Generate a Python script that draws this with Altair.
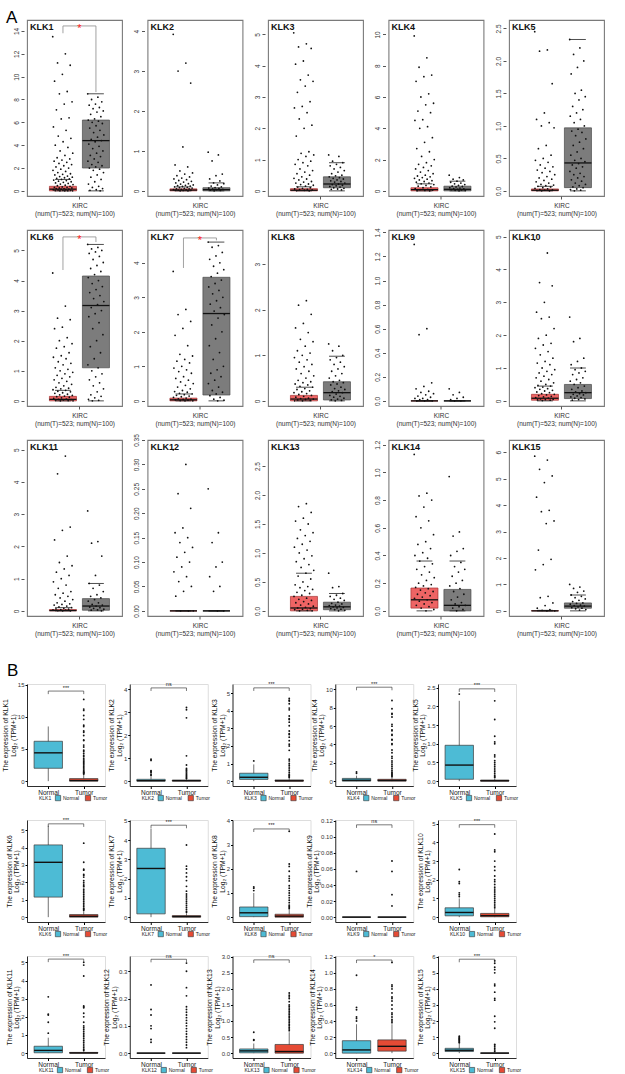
import altair as alt
import pandas as pd

FONT = "Liberation Sans"

GENES = ["KLK1", "KLK2", "KLK3", "KLK4", "KLK5", "KLK6", "KLK7", "KLK8",
         "KLK9", "KLK10", "KLK11", "KLK12", "KLK13", "KLK14", "KLK15"]

# ---------------- Panel A (GEPIA style, KIRC tumor vs normal) ----------------
# box statistics: (q1, median, q3, lower cap, upper cap)
A_TUMOR_BOX = [
    (0.0, 0.15, 0.4, 0.0, 1.0), (0.0, 0.02, 0.05, 0.0, 0.1), (0.0, 0.02, 0.07, 0.0, 0.13),
    (0.0, 0.08, 0.2, 0.0, 0.45), (0.0, 0.01, 0.03, 0.0, 0.07), (0.0, 0.05, 0.15, 0.0, 0.35),
    (0.0, 0.03, 0.08, 0.0, 0.2), (0.0, 0.04, 0.12, 0.0, 0.3), (0.0, 0.0, 0.0, 0.0, 0.0),
    (0.02, 0.08, 0.2, 0.0, 0.45), (0.0, 0.01, 0.04, 0.0, 0.1), (0.0, 0.0, 0.0, 0.0, 0.0),
    (0.0, 0.05, 0.25, 0.0, 0.65), (0.02, 0.08, 0.165, 0.0, 0.36), (0.0, 0.0, 0.01, 0.0, 0.02),
]
A_NORMAL_BOX = [
    (2.0, 4.4, 6.2, 0.0, 8.5), (0.0, 0.03, 0.08, 0.0, 0.2), (0.1, 0.22, 0.45, 0.0, 0.9),
    (0.0, 0.1, 0.3, 0.0, 0.62), (0.05, 0.43, 0.97, 0.0, 2.33), (1.1, 3.17, 4.15, 0.0, 5.2),
    (0.17, 2.53, 3.58, 0.0, 4.6), (0.02, 0.18, 0.42, 0.0, 0.98), (0.0, 0.0, 0.0, 0.0, 0.0),
    (0.07, 0.25, 0.5, 0.0, 1.0), (0.02, 0.15, 0.38, 0.0, 0.85), (0.0, 0.0, 0.0, 0.0, 0.0),
    (0.02, 0.07, 0.15, 0.0, 0.3), (0.0, 0.04, 0.155, 0.0, 0.36), (0.1, 0.18, 0.3, 0.0, 0.6),
]
A_TUMOR_PTS = [
    [13.5, 12.0, 11.2, 11.0, 10.2, 9.6, 8.7, 8.5, 7.8, 7.6, 7.1, 6.4, 6.3, 5.6, 5.3, 4.8, 4.6, 4.3, 4.0, 3.8,
     3.5, 3.3, 3.1, 2.9, 2.8, 2.7, 2.6, 2.5, 2.4, 2.3, 2.2, 2.1, 2.0, 1.9, 1.8, 1.7, 1.6, 1.5, 1.45, 1.4,
     1.3, 1.25, 1.2, 1.15, 1.1, 1.05, 1.0, 0.95, 0.9, 0.85, 0.8, 0.75, 0.7, 0.65, 0.6, 0.55, 0.5, 0.45, 0.4,
     0.35, 0.3, 0.3, 0.25, 0.25, 0.2, 0.2, 0.15, 0.15, 0.1, 0.1, 0.08, 0.05, 0.05, 0.03, 0.02, 0.01, 0.0, 0.0],
    [3.92, 3.2, 3.0, 2.7, 1.1, 0.65, 0.6, 0.5, 0.45, 0.42, 0.38, 0.35, 0.32, 0.3, 0.28, 0.26, 0.24, 0.22,
     0.2, 0.18, 0.17, 0.15, 0.14, 0.13, 0.12, 0.11, 0.1, 0.09, 0.08, 0.07, 0.06, 0.05, 0.05, 0.04, 0.03,
     0.03, 0.02, 0.02, 0.01, 0.01, 0.0, 0.0],
    [5.05, 4.7, 4.6, 4.55, 4.15, 4.05, 3.7, 3.55, 3.5, 3.35, 3.15, 2.85, 2.7, 2.65, 2.5, 2.3, 2.1, 2.0, 1.75,
     1.25, 1.2, 1.15, 1.1, 1.0, 0.95, 0.9, 0.85, 0.8, 0.7, 0.65, 0.6, 0.55, 0.5, 0.45, 0.4, 0.38, 0.35, 0.3,
     0.28, 0.25, 0.22, 0.2, 0.18, 0.15, 0.12, 0.1, 0.08, 0.06, 0.05, 0.04, 0.03, 0.02, 0.01, 0.0],
    [9.9, 8.5, 7.9, 7.4, 7.3, 7.0, 6.2, 6.0, 5.6, 5.5, 5.1, 5.0, 4.55, 4.5, 4.1, 4.0, 3.4, 3.1, 2.7, 2.5, 2.2,
     2.0, 1.8, 1.7, 1.6, 1.5, 1.4, 1.3, 1.2, 1.1, 1.0, 0.95, 0.9, 0.85, 0.8, 0.75, 0.7, 0.65, 0.6, 0.55, 0.5,
     0.45, 0.4, 0.35, 0.3, 0.25, 0.2, 0.15, 0.1, 0.08, 0.05, 0.03, 0.01, 0.0],
    [2.45, 2.17, 2.15, 1.65, 1.2, 1.1, 1.05, 1.0, 0.97, 0.7, 0.65, 0.55, 0.5, 0.47, 0.44, 0.4, 0.37, 0.35,
     0.32, 0.3, 0.28, 0.25, 0.22, 0.2, 0.18, 0.16, 0.14, 0.12, 0.1, 0.09, 0.08, 0.07, 0.06, 0.05, 0.04,
     0.03, 0.02, 0.015, 0.01, 0.005, 0.0, 0.0],
    [4.25, 3.15, 2.75, 2.7, 2.45, 2.4, 2.1, 2.0, 1.9, 1.8, 1.75, 1.6, 1.5, 1.45, 1.4, 1.3, 1.25, 1.2, 1.1,
     1.05, 1.0, 0.95, 0.9, 0.85, 0.8, 0.75, 0.7, 0.65, 0.6, 0.55, 0.5, 0.45, 0.42, 0.4, 0.37, 0.35, 0.32,
     0.3, 0.27, 0.25, 0.22, 0.2, 0.18, 0.16, 0.14, 0.12, 0.1, 0.08, 0.06, 0.05, 0.04, 0.03, 0.02, 0.01, 0.0, 0.0],
    [3.75, 2.65, 2.5, 2.3, 2.1, 1.9, 1.6, 1.35, 1.3, 1.2, 1.15, 1.1, 1.0, 0.95, 0.9, 0.85, 0.8, 0.7, 0.65,
     0.6, 0.55, 0.5, 0.45, 0.4, 0.35, 0.3, 0.27, 0.25, 0.22, 0.2, 0.18, 0.16, 0.14, 0.12, 0.1, 0.08, 0.06,
     0.05, 0.04, 0.03, 0.02, 0.01, 0.0, 0.0],
    [3.55, 2.2, 2.1, 1.9, 1.7, 1.6, 1.5, 1.35, 1.3, 1.2, 1.1, 1.05, 1.0, 0.95, 0.9, 0.85, 0.8, 0.75, 0.7,
     0.65, 0.6, 0.55, 0.5, 0.45, 0.42, 0.4, 0.37, 0.35, 0.32, 0.3, 0.27, 0.25, 0.22, 0.2, 0.18, 0.16, 0.14,
     0.12, 0.1, 0.08, 0.06, 0.05, 0.04, 0.03, 0.02, 0.01, 0.0, 0.0],
    [1.3, 0.6, 0.55, 0.15, 0.12, 0.1, 0.08, 0.07, 0.06, 0.05, 0.04, 0.03, 0.02, 0.02, 0.01, 0.01, 0.0, 0.0, 0.0],
    [4.9, 4.5, 3.6, 3.5, 3.0, 2.7, 2.55, 2.5, 2.2, 2.0, 1.9, 1.75, 1.7, 1.6, 1.5, 1.4, 1.3, 1.2, 1.15, 1.1,
     1.0, 0.95, 0.9, 0.85, 0.8, 0.75, 0.7, 0.65, 0.6, 0.55, 0.5, 0.47, 0.45, 0.42, 0.4, 0.37, 0.35, 0.32,
     0.3, 0.27, 0.25, 0.22, 0.2, 0.18, 0.16, 0.14, 0.12, 0.1, 0.08, 0.06, 0.05, 0.04, 0.03, 0.02, 0.01],
    [5.0, 4.8, 4.25, 2.6, 2.5, 2.2, 1.7, 1.5, 1.4, 1.3, 1.2, 1.1, 1.0, 0.9, 0.8, 0.7, 0.6, 0.55, 0.5, 0.45,
     0.4, 0.35, 0.3, 0.25, 0.22, 0.2, 0.18, 0.15, 0.12, 0.1, 0.08, 0.06, 0.05, 0.04, 0.03, 0.02, 0.01, 0.0, 0.0],
    [0.33, 0.3, 0.24, 0.21, 0.17, 0.16, 0.15, 0.14, 0.13, 0.12, 0.11, 0.1, 0.09, 0.08, 0.07, 0.06, 0.05,
     0.04, 0.03, 0.0, 0.0, 0.0],
    [2.8, 1.85, 1.8, 1.7, 1.6, 1.55, 1.5, 1.4, 1.35, 1.3, 1.25, 1.2, 1.15, 1.1, 1.05, 1.0, 0.95, 0.9, 0.85,
     0.8, 0.75, 0.7, 0.65, 0.6, 0.55, 0.5, 0.45, 0.42, 0.4, 0.37, 0.35, 0.32, 0.3, 0.27, 0.25, 0.22, 0.2,
     0.18, 0.16, 0.14, 0.12, 0.1, 0.08, 0.06, 0.05, 0.04, 0.03, 0.02, 0.01, 0.0, 0.0],
    [1.13, 0.85, 0.83, 0.8, 0.75, 0.68, 0.65, 0.6, 0.55, 0.5, 0.48, 0.45, 0.42, 0.4, 0.38, 0.36, 0.34, 0.32,
     0.3, 0.28, 0.26, 0.24, 0.22, 0.2, 0.19, 0.18, 0.17, 0.16, 0.15, 0.14, 0.13, 0.12, 0.11, 0.1, 0.09,
     0.08, 0.07, 0.06, 0.05, 0.04, 0.03, 0.02, 0.01, 0.0],
    [5.85, 5.7, 5.35, 5.1, 4.85, 4.3, 3.8, 3.75, 3.4, 3.3, 2.3, 1.95, 1.75, 1.55, 0.55, 0.5, 0.3, 0.2, 0.1,
     0.05, 0.02, 0.0, 0.0],
]
A_NORMAL_PTS = [
    [8.5, 8.2, 8.0, 7.8, 7.6, 7.5, 7.3, 7.2, 7.0, 6.9, 6.7, 6.5, 6.3, 6.2, 6.1, 6.0, 5.9, 5.7, 5.5, 5.3, 5.1,
     4.9, 4.7, 4.5, 4.4, 4.3, 4.1, 3.9, 3.7, 3.5, 3.3, 3.1, 3.0, 2.8, 2.6, 2.5, 2.3, 2.2, 2.1, 2.0, 1.9,
     1.8, 1.6, 1.4, 1.2, 1.0, 0.8, 0.6, 0.4, 0.3, 0.2, 0.1, 0.05, 0.0],
    [0.97, 0.9, 0.75, 0.42, 0.38, 0.3, 0.25, 0.2, 0.18, 0.15, 0.12, 0.1, 0.08, 0.07, 0.06, 0.05, 0.04,
     0.03, 0.02, 0.01, 0.0],
    [1.15, 1.1, 0.95, 0.9, 0.85, 0.8, 0.75, 0.7, 0.65, 0.6, 0.55, 0.5, 0.48, 0.45, 0.42, 0.4, 0.38, 0.35,
     0.32, 0.3, 0.28, 0.25, 0.22, 0.2, 0.18, 0.16, 0.14, 0.12, 0.1, 0.08, 0.06, 0.05, 0.03],
    [1.0, 0.85, 0.75, 0.7, 0.62, 0.55, 0.5, 0.45, 0.4, 0.35, 0.3, 0.28, 0.25, 0.2, 0.18, 0.15, 0.12, 0.1,
     0.08, 0.06, 0.04, 0.02, 0.0],
    [2.33, 2.2, 2.1, 2.0, 1.9, 1.8, 1.55, 1.5, 1.45, 1.4, 1.3, 1.25, 1.2, 1.15, 1.1, 1.05, 1.0, 0.95, 0.92,
     0.9, 0.85, 0.8, 0.75, 0.7, 0.65, 0.6, 0.55, 0.5, 0.47, 0.45, 0.42, 0.4, 0.37, 0.35, 0.3, 0.27, 0.25,
     0.22, 0.2, 0.17, 0.15, 0.12, 0.1, 0.08, 0.06, 0.05, 0.03, 0.02, 0.01, 0.0],
    [5.2, 5.1, 5.05, 5.0, 4.95, 4.9, 4.8, 4.7, 4.6, 4.5, 4.4, 4.3, 4.2, 4.1, 4.0, 3.9, 3.8, 3.7, 3.6, 3.5,
     3.4, 3.3, 3.2, 3.1, 3.0, 2.9, 2.8, 2.6, 2.4, 2.2, 2.0, 1.8, 1.6, 1.4, 1.2, 1.1, 1.0, 0.9, 0.8, 0.7,
     0.6, 0.5, 0.4, 0.3, 0.2, 0.15, 0.1, 0.05, 0.02, 0.0],
    [4.6, 4.5, 4.45, 4.3, 4.2, 4.1, 4.0, 3.9, 3.8, 3.7, 3.6, 3.5, 3.4, 3.3, 3.2, 3.1, 3.0, 2.9, 2.8, 2.7,
     2.6, 2.5, 2.4, 2.2, 2.0, 1.8, 1.6, 1.4, 1.2, 1.0, 0.9, 0.8, 0.7, 0.6, 0.5, 0.4, 0.3, 0.25, 0.2, 0.15,
     0.1, 0.05, 0.02, 0.0],
    [1.25, 1.2, 1.1, 1.0, 0.95, 0.9, 0.85, 0.8, 0.75, 0.7, 0.65, 0.6, 0.55, 0.5, 0.45, 0.42, 0.4, 0.37,
     0.35, 0.3, 0.27, 0.25, 0.22, 0.2, 0.18, 0.15, 0.12, 0.1, 0.08, 0.06, 0.04, 0.02, 0.01, 0.0],
    [0.1, 0.07, 0.05, 0.03, 0.02, 0.01, 0.0, 0.0],
    [2.55, 1.9, 1.8, 1.3, 1.2, 1.1, 1.0, 0.95, 0.9, 0.85, 0.8, 0.7, 0.65, 0.6, 0.55, 0.5, 0.45, 0.4, 0.35,
     0.3, 0.27, 0.25, 0.22, 0.2, 0.18, 0.15, 0.12, 0.1, 0.08, 0.06, 0.04, 0.02],
    [3.1, 2.15, 2.1, 1.7, 1.1, 0.85, 0.8, 0.7, 0.6, 0.5, 0.45, 0.4, 0.35, 0.3, 0.25, 0.2, 0.18, 0.15,
     0.12, 0.1, 0.08, 0.05, 0.03, 0.02, 0.0],
    [0.25, 0.16, 0.14, 0.1, 0.09, 0.07, 0.05, 0.04, 0.0, 0.0],
    [0.65, 0.42, 0.4, 0.3, 0.27, 0.25, 0.22, 0.2, 0.18, 0.15, 0.13, 0.12, 0.1, 0.09, 0.08, 0.07, 0.06,
     0.05, 0.04, 0.03, 0.02, 0.01, 0.0],
    [0.97, 0.57, 0.54, 0.45, 0.43, 0.4, 0.35, 0.32, 0.3, 0.28, 0.25, 0.22, 0.2, 0.18, 0.16, 0.14, 0.12,
     0.1, 0.08, 0.06, 0.05, 0.04, 0.03, 0.02, 0.01, 0.0],
    [1.0, 0.9, 0.85, 0.75, 0.7, 0.6, 0.55, 0.5, 0.45, 0.4, 0.35, 0.3, 0.28, 0.25, 0.22, 0.2, 0.18, 0.15,
     0.12, 0.1, 0.08, 0.05, 0.03],
]
A_YMAX = [14.96, 4.28, 5.46, 10.92, 2.63, 5.68, 4.95, 3.75, 1.42, 5.2, 5.3, 0.35, 2.95, 1.234, 6.46]
A_YSTEP = [2, 1, 1, 2, 0.5, 1, 1, 1, 0.2, 1, 1, 0.05, 0.5, 0.2, 1]
A_YFMT = ["d", "d", "d", "d", ".1f", "d", "d", "d", ".1f", "d", "d", ".2f", ".1f", ".1f", "d"]
# significance bracket: (bar height, tumor-side end, normal-side end) or None
A_SIG = [(14.44, 13.8, 8.65), None, None, None, None,
         (5.45, 4.35, 5.28), (4.72, 3.85, 4.65), None, None, None,
         None, None, None, None, None]

# ---------------- Panel B (TCGA normal vs tumor) ----------------
# box statistics: (q1, median, q3, lower whisker, upper whisker)
B_NORMAL_BOX = [
    (2.0, 4.4, 6.2, 0.0, 8.5), (0.0, 0.02, 0.08, 0.0, 0.2), (0.1, 0.22, 0.45, 0.0, 0.95),
    (0.0, 0.1, 0.3, 0.0, 0.6), (0.05, 0.43, 0.96, 0.0, 2.15), (1.15, 3.15, 4.15, 0.0, 5.25),
    (0.17, 2.53, 3.58, 0.0, 4.6), (0.02, 0.18, 0.42, 0.0, 1.0), (0.0, 0.0, 0.0, 0.0, 0.0),
    (0.07, 0.25, 0.5, 0.0, 1.0), (0.02, 0.15, 0.38, 0.0, 0.85), (0.0, 0.0, 0.0, 0.0, 0.0),
    (0.01, 0.07, 0.13, 0.0, 0.3), (0.0, 0.04, 0.155, 0.0, 0.36), (0.1, 0.18, 0.3, 0.0, 0.6),
]
B_TUMOR_BOX = [
    (0.0, 0.1, 0.4, 0.0, 1.0), (0.0, 0.02, 0.05, 0.0, 0.1), (0.0, 0.02, 0.07, 0.0, 0.15),
    (0.0, 0.08, 0.2, 0.0, 0.45), (0.0, 0.01, 0.03, 0.0, 0.07), (0.0, 0.05, 0.15, 0.0, 0.35),
    (0.0, 0.03, 0.08, 0.0, 0.2), (0.0, 0.04, 0.12, 0.0, 0.3), (0.0, 0.0, 0.0, 0.0, 0.0),
    (0.02, 0.08, 0.2, 0.0, 0.45), (0.0, 0.01, 0.04, 0.0, 0.1), (0.0, 0.0, 0.0, 0.0, 0.0),
    (0.0, 0.05, 0.27, 0.0, 0.65), (0.025, 0.085, 0.165, 0.0, 0.36), (0.0, 0.0, 0.01, 0.0, 0.02),
]
B_NORMAL_OUT = [
    [], [0.95, 0.9, 0.45, 0.42, 0.38, 0.3, 0.25], [1.15], [1.0, 0.85], [2.33],
    [], [], [1.25, 1.2, 1.1], [0.057], [2.55, 1.9, 1.8, 1.3, 1.2, 1.1],
    [3.1, 2.15, 2.1, 1.7, 1.1], [0.25, 0.16, 0.14, 0.1, 0.09, 0.05, 0.04], [0.65, 0.42, 0.4],
    [0.97, 0.57, 0.54, 0.45, 0.43, 0.4], [1.05, 1.0, 0.95, 0.9, 0.85, 0.8, 0.75, 0.7, 0.65],
]
B_TUMOR_OUT = [
    [12.7, 11.2, 11.0, 10.2, 9.6, 8.7, 8.5, 7.8, 7.6, 7.1, 6.4, 6.3, 5.6, 5.3, 4.8, 4.6, 4.3, 4.0, 3.8, 3.5,
     3.3, 3.1, 2.9, 2.7, 2.5, 2.3, 2.1, 1.9, 1.7, 1.5, 1.4, 1.3, 1.2, 1.1],
    [3.2, 3.1, 2.75, 1.1, 0.7, 0.55, 0.5, 0.45, 0.4, 0.35, 0.3, 0.25, 0.2, 0.15, 0.12],
    [4.7, 4.6, 4.55, 4.4, 4.15, 4.05, 3.7, 3.55, 3.5, 3.35, 3.15, 2.85, 2.7, 2.65, 2.5, 2.3, 2.1, 2.0,
     1.75, 1.25, 1.15, 1.0, 0.9, 0.8, 0.7, 0.6, 0.5, 0.4, 0.35, 0.3, 0.25, 0.2],
    [8.8, 7.9, 7.4, 7.3, 7.0, 6.2, 6.0, 5.6, 5.5, 5.1, 5.0, 4.55, 4.5, 4.1, 4.0, 3.4, 3.1, 2.7, 2.5, 2.2,
     2.0, 1.8, 1.6, 1.4, 1.2, 1.0, 0.9, 0.8, 0.7, 0.6, 0.5],
    [2.15, 1.65, 1.2, 1.05, 1.0, 0.7, 0.65, 0.55, 0.5, 0.45, 0.4, 0.35, 0.3, 0.25, 0.2, 0.15, 0.12, 0.1],
    [4.25, 3.15, 2.75, 2.7, 2.45, 2.4, 2.3, 2.1, 2.0, 1.9, 1.8, 1.75, 1.6, 1.5, 1.4, 1.3, 1.2, 1.1, 1.0,
     0.9, 0.8, 0.7, 0.6, 0.5, 0.45, 0.4],
    [3.75, 2.65, 2.5, 2.3, 2.1, 1.9, 1.6, 1.35, 1.2, 1.1, 1.0, 0.9, 0.8, 0.7, 0.6, 0.5, 0.4, 0.3, 0.25],
    [3.55, 2.2, 2.1, 1.9, 1.7, 1.6, 1.5, 1.3, 1.2, 1.1, 1.0, 0.9, 0.8, 0.7, 0.6, 0.5, 0.45, 0.4, 0.35],
    [0.07, 0.057, 0.028, 0.014],
    [4.45, 3.6, 3.5, 3.0, 2.7, 2.5, 2.2, 2.0, 1.9, 1.75, 1.6, 1.5, 1.4, 1.3, 1.2, 1.1, 1.0, 0.9, 0.8, 0.7,
     0.6, 0.5],
    [5.0, 4.85, 4.25, 2.6, 2.55, 2.5, 2.2, 2.0, 1.7, 1.5, 1.4, 1.3, 1.2, 1.1, 1.0, 0.9, 0.8, 0.7, 0.6, 0.5,
     0.4, 0.3, 0.2, 0.15],
    [0.33, 0.3, 0.24, 0.21, 0.17, 0.16, 0.15, 0.14, 0.13, 0.12, 0.11, 0.1, 0.09, 0.08, 0.07, 0.06, 0.05,
     0.04, 0.03, 0.02],
    [1.87, 1.8, 1.75, 1.7, 1.6, 1.5, 1.45, 1.4, 1.35, 1.3, 1.25, 1.2, 1.15, 1.1, 1.05, 1.0, 0.95, 0.9,
     0.85, 0.8, 0.75, 0.7],
    [1.13, 0.85, 0.83, 0.8, 0.75, 0.7, 0.68, 0.65, 0.6, 0.55, 0.5, 0.48, 0.45, 0.42, 0.4, 0.38],
    [5.75, 5.6, 5.35, 5.2, 5.0, 4.3, 4.2, 3.8, 3.4, 3.3, 2.3, 1.95, 1.55, 0.55, 0.5, 0.4, 0.3, 0.2, 0.1],
]
B_YMAX = [15.1, 4.22, 5.52, 10.6, 2.6, 5.58, 5.05, 4.02, 0.121, 5.2, 5.35, 0.356, 3.02, 1.21, 6.05]
B_YSTEP = [5, 1, 1, 2, 0.5, 1, 1, 1, 0.02, 1, 1, 0.1, 0.5, 0.2, 1]
B_YFMT = ["d", "d", "d", "d", ".1f", "d", "d", "d", ".2f", "d", "d", ".1f", ".1f", ".1f", "d"]
B_SIG_Y = [14.0, 4.05, 5.3, 10.25, 2.47, 5.36, 4.78, 3.65, 0.115, 4.95, 5.18, 0.344, 2.9, 1.16, 5.85]
B_SIG_LABEL = ["***", "ns", "***", "***", "***", "***", "***", "***", "ns", "***",
               "***", "ns", "ns", "*", "***"]

# ---------------- styling ----------------
A_W, A_H = 95, 176
B_W, B_H = 78, 102
A_TUMOR_FILL, A_TUMOR_EDGE = "#EE6464", "#A83232"
A_NORMAL_FILL, A_NORMAL_EDGE = "#7C7C7C", "#4A4A4A"
B_COLORS = ["#4DBBD5", "#E64B35"]
B_GROUPS = ["Normal", "Tumor"]


def tick_values(top, step):
    n = int(top / step + 1e-9)
    return [round(k * step, 6) for k in range(n + 1)]


def spread(n, width):
    # deterministic low-discrepancy horizontal offsets for the strip points
    return [((k * 0.6180339887498949) % 1.0 - 0.5) * width for k in range(n)]


def a_panel(i):
    gene = GENES[i]
    top = A_YMAX[i]
    ysc = alt.Scale(domain=[-0.03 * top, top], nice=False, zero=False)
    xsc = alt.Scale(domain=[-0.09, 2.79], nice=False, zero=False)
    xax = alt.Axis(values=[1.5], labelExpr="'KIRC'", title="(num(T)=523; num(N)=100)",
                   domain=False, grid=False, tickSize=3, tickColor="#555", labelFontSize=6.5,
                   labelColor="#333", labelPadding=3, titleFontSize=6.5, titleFontWeight="normal",
                   titleColor="#333", titlePadding=2, labelFont=FONT, titleFont=FONT)
    yax = alt.Axis(values=tick_values(top, A_YSTEP[i]), format=A_YFMT[i], labelAngle=-90,
                   domain=False, grid=False, tickSize=3, tickColor="#555", labelFontSize=6.5,
                   labelColor="#333", labelPadding=2, offset=3, title=None, labelFont=FONT)

    def X(f):
        return alt.X(f, type="quantitative", scale=xsc, axis=xax)

    def Y(f):
        return alt.Y(f, type="quantitative", scale=ysc, axis=yax)

    tb, nb = A_TUMOR_BOX[i], A_NORMAL_BOX[i]
    box = pd.DataFrame({
        "pos": [1.0, 2.0],
        "q1": [tb[0], nb[0]], "med": [tb[1], nb[1]], "q3": [tb[2], nb[2]],
        "lo": [tb[3], nb[3]], "hi": [tb[4], nb[4]],
        "fill": [A_TUMOR_FILL, A_NORMAL_FILL], "edge": [A_TUMOR_EDGE, A_NORMAL_EDGE],
    })
    box["x0"] = box["pos"] - 0.41
    box["x1"] = box["pos"] + 0.41
    box["c0"] = box["pos"] - 0.24
    box["c1"] = box["pos"] + 0.24

    tv, nv = A_TUMOR_PTS[i], A_NORMAL_PTS[i]
    pts = pd.DataFrame({
        "x": [1.0 + d for d in spread(len(tv), 0.62)] + [2.0 + d for d in spread(len(nv), 0.5)],
        "v": tv + nv,
    })

    b = alt.Chart(box)
    layers = [
        b.mark_rect(strokeWidth=0.7).encode(
            x=X("x0"), x2="x1", y=Y("q1"), y2="q3",
            fill=alt.Fill("fill:N", scale=None), stroke=alt.Stroke("edge:N", scale=None)),
        b.mark_rule(color="#222", strokeWidth=0.8).encode(x=X("c0"), x2="c1", y=Y("hi")),
        b.mark_rule(color="#222", strokeWidth=0.8).encode(x=X("c0"), x2="c1", y=Y("lo")),
        alt.Chart(pts).mark_circle(size=3.2, color="#111", opacity=1).encode(x=X("x"), y=Y("v")),
        b.mark_rule(color="#111", strokeWidth=1.3).encode(x=X("x0"), x2="x1", y=Y("med")),
    ]

    sig = A_SIG[i]
    if sig is not None:
        bar = pd.DataFrame({"x0": [1.0], "x1": [2.0], "y": [sig[0]], "yl": [sig[1]],
                            "yr": [sig[2]], "mid": [1.5], "s": ["*"]})
        bc = alt.Chart(bar)
        layers += [
            bc.mark_rule(color="#8a8a8a", strokeWidth=0.8).encode(x=X("x0"), x2="x1", y=Y("y")),
            bc.mark_rule(color="#8a8a8a", strokeWidth=0.8).encode(x=X("x0"), y=Y("y"), y2="yl"),
            bc.mark_rule(color="#8a8a8a", strokeWidth=0.8).encode(x=X("x1"), y=Y("y"), y2="yr"),
            bc.mark_text(color="#FF2020", fontSize=11, baseline="middle", dy=3, font=FONT).encode(
                x=X("mid"), y=Y("y"), text="s:N"),
        ]

    label = pd.DataFrame({"t": [gene]})
    layers.append(alt.Chart(label).mark_text(
        align="left", baseline="top", fontSize=9, fontWeight="bold", font=FONT, color="#111"
    ).encode(text="t:N", x=alt.value(3), y=alt.value(3)))
    if i == 0:
        layers.append(alt.Chart(pd.DataFrame({"t": ["A"]})).mark_text(
            align="left", baseline="alphabetic", fontSize=17, font=FONT, color="#000"
        ).encode(text="t:N", x=alt.value(-21), y=alt.value(3)))
        # transparent rule that reserves a fixed left margin for the whole block
        layers.append(alt.Chart(pd.DataFrame({"t": [0]})).mark_rule(opacity=0).encode(
            x=alt.value(-26), x2=alt.value(-25), y=alt.value(10)))

    return alt.layer(*layers).properties(
        width=A_W, height=A_H,
        view=alt.ViewBackground(stroke="#7a7a7a", strokeWidth=1.1))


def b_panel(i):
    gene = GENES[i]
    top = B_YMAX[i]
    lo = -0.05 * top
    ysc = alt.Scale(domain=[lo, top], nice=False, zero=False)
    xsc = alt.Scale(domain=[0.4, 2.6], nice=False, zero=False)
    xax = alt.Axis(values=[1, 2], labelExpr="datum.value == 1 ? 'Normal' : 'Tumor'", title=None,
                   domainColor="#000", domainWidth=0.8, grid=False, tickSize=2.5, tickColor="#000",
                   labelFontSize=6.5, labelColor="#222", labelPadding=1, labelFont=FONT)
    yax = alt.Axis(values=tick_values(top, B_YSTEP[i]), format=B_YFMT[i],
                   title=[f"The expression of {gene}", "Log\u2082 (TPM+1)"],
                   domainColor="#000", domainWidth=0.8, grid=False, tickSize=2, tickColor="#000",
                   labelFontSize=6, labelColor="#333", labelPadding=1, titleFontSize=6.8,
                   titleFontWeight="normal", titleColor="#111", titlePadding=1,
                   labelFont=FONT, titleFont=FONT, titleLineHeight=7.5)

    def X(f):
        return alt.X(f, type="quantitative", scale=xsc, axis=xax)

    def Y(f):
        return alt.Y(f, type="quantitative", scale=ysc, axis=yax)

    nb, tb = B_NORMAL_BOX[i], B_TUMOR_BOX[i]
    box = pd.DataFrame({
        "grp": B_GROUPS, "pos": [1.0, 2.0],
        "q1": [nb[0], tb[0]], "med": [nb[1], tb[1]], "q3": [nb[2], tb[2]],
        "lo": [nb[3], tb[3]], "hi": [nb[4], tb[4]],
    })
    box["x0"] = box["pos"] - 0.4
    box["x1"] = box["pos"] + 0.4

    nv, tv = B_NORMAL_OUT[i], B_TUMOR_OUT[i]
    out = pd.DataFrame({"x": [1.0] * len(nv) + [2.0] * len(tv), "v": nv + tv})

    span = top - lo
    sig = pd.DataFrame({"x0": [1.0], "x1": [2.0], "mid": [1.5], "y": [B_SIG_Y[i]],
                        "yd": [B_SIG_Y[i] - 0.03 * span], "s": [B_SIG_LABEL[i]]})

    legend = alt.Legend(orient="none", legendX=12, legendY=B_H + 9, direction="horizontal",
                        title=gene, titleOrient="left", titleFontSize=5, titleFontWeight="normal",
                        titleFont=FONT, titleColor="#222", labelFontSize=5, labelFont=FONT,
                        labelColor="#222", symbolType="square", symbolSize=28,
                        symbolStrokeColor="#333", symbolStrokeWidth=0.6, labelOffset=2,
                        columnPadding=4, titlePadding=3, padding=0)

    b = alt.Chart(box)
    sc = alt.Chart(sig)
    layers = [
        b.mark_rule(color="#333", strokeWidth=0.7).encode(x=X("pos"), y=Y("lo"), y2="hi"),
        b.mark_rect(stroke="#3a3a3a", strokeWidth=0.7).encode(
            x=X("x0"), x2="x1", y=Y("q1"), y2="q3",
            color=alt.Color("grp:N", scale=alt.Scale(domain=B_GROUPS, range=B_COLORS),
                            legend=legend)),
        b.mark_rule(color="#111", strokeWidth=1.4).encode(x=X("x0"), x2="x1", y=Y("med")),
        alt.Chart(out).mark_circle(size=3.5, color="#111", opacity=1).encode(x=X("x"), y=Y("v")),
        sc.mark_rule(color="#222", strokeWidth=0.6).encode(x=X("x0"), x2="x1", y=Y("y")),
        sc.mark_rule(color="#222", strokeWidth=0.6).encode(x=X("x0"), y=Y("y"), y2="yd"),
        sc.mark_rule(color="#222", strokeWidth=0.6).encode(x=X("x1"), y=Y("y"), y2="yd"),
        sc.mark_text(fontSize=5.5, baseline="bottom", dy=-0.5, font=FONT, color="#222").encode(
            x=X("mid"), y=Y("y"), text="s:N"),
    ]
    if i == 0:
        layers.append(alt.Chart(pd.DataFrame({"t": ["B"]})).mark_text(
            align="left", baseline="alphabetic", fontSize=17, font=FONT, color="#000"
        ).encode(text="t:N", x=alt.value(-20), y=alt.value(-8)))

    return alt.layer(*layers).properties(width=B_W, height=B_H)


grid_a = alt.ConcatChart(concat=[a_panel(i) for i in range(15)], columns=5, bounds="flush",
                         spacing={"row": 34, "column": 25.5})
grid_b = alt.ConcatChart(concat=[b_panel(i) for i in range(15)], columns=5, bounds="flush",
                         spacing={"row": 34, "column": 24.75}).resolve_scale(color="independent")

chart = alt.vconcat(grid_a, grid_b, spacing=23).resolve_scale(color="independent").properties(
    padding={"left": 0, "top": 8, "right": 0, "bottom": 0}
).configure_view(stroke=None).configure(font=FONT)

chart.save("out.html", embed_options={"renderer": "svg", "actions": False})
